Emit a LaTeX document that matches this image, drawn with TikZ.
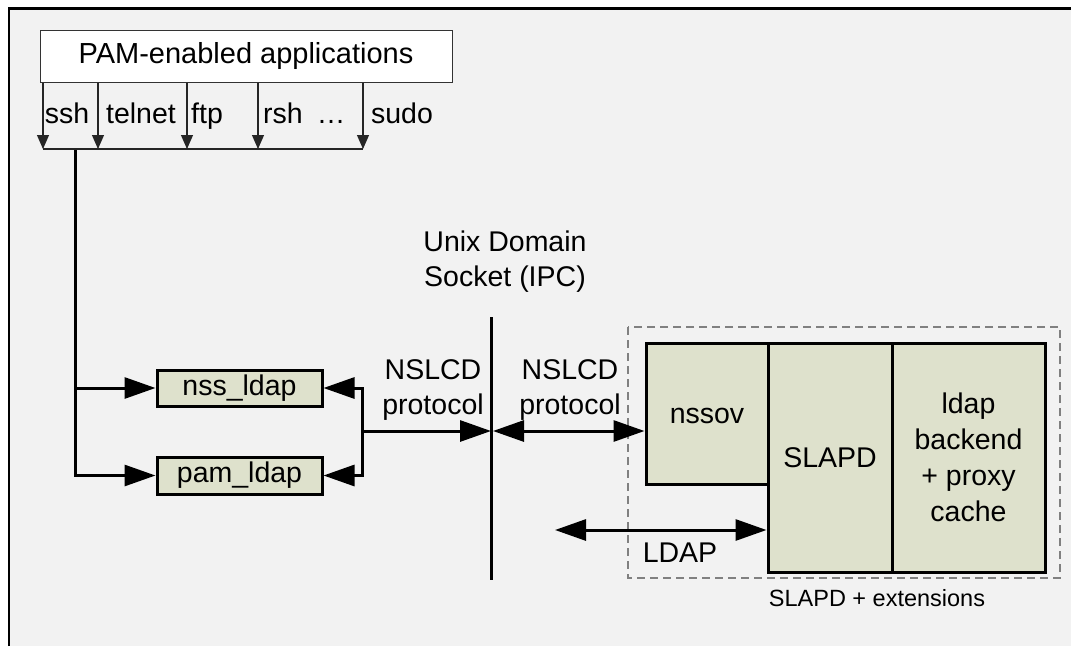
\documentclass[tikz,border=0pt]{standalone}
\usepackage{fontspec}
\setmainfont{Liberation Sans}
\usetikzlibrary{arrows.meta}
\definecolor{bgc}{HTML}{F2F2F2}
\definecolor{boxg}{HTML}{DEE1CC}
\definecolor{dashg}{HTML}{808080}
\begin{document}
\begin{tikzpicture}[x=1pt,y=-1pt,
  txt/.style={font=\fontsize{28.5}{35}\selectfont, inner sep=0pt, align=center},
  lbl/.style={font=\fontsize{28.5}{35}\selectfont, inner sep=0pt, anchor=base},
  smalltxt/.style={font=\fontsize{23.5}{28}\selectfont, inner sep=0pt, anchor=base},
  appbox/.style={draw=black!80, line width=1pt, fill=white, inner sep=0pt, font=\fontsize{29}{35}\selectfont},
  gbox/.style={draw=black, line width=3pt, fill=boxg, inner sep=0pt, align=center, font=\fontsize{28.5}{36}\selectfont},
  thinarrow/.style={draw=black!85, line width=1.1pt, -{Triangle[length=14pt,width=12pt]}},
  thinline/.style={draw=black!85, line width=1.1pt},
  thickline/.style={draw=black, line width=3pt},
  thickarrow/.style={thickline, -{Triangle[length=31pt,width=21pt]}},
  dblarrow/.style={thickline, {Triangle[length=31pt,width=21pt]}-{Triangle[length=31pt,width=21pt]}},
]
\useasboundingbox (0,0) rectangle (1071,646);
\fill[white] (0,0) rectangle (1071,646);
\fill[bgc] (9,8.5) rectangle (1071,646);
\draw[line width=2.8pt] (9,646) -- (9,8.5) -- (1071,8.5);

% top application box
\node[appbox, minimum width=412pt, minimum height=52pt, text height=20pt, text depth=6pt] (pam) at (246,56) {PAM-enabled applications};

\coordinate (b1) at (43,149);
\coordinate (b2) at (98,149);
\coordinate (b3) at (187,149);
\coordinate (b4) at (258,149);
\coordinate (b5) at (363,149);
\foreach \b in {b1,b2,b3,b4,b5} {\draw[thinarrow] (pam.south -| \b) -- (\b);}
\draw[thinline] (b1) -- (b5);

\node[lbl] (lssh) at (67,123) {ssh};
\node[lbl] (ltelnet) at (141,123) {telnet};
\node[lbl] (lftp) at (207,123) {ftp};
\node[lbl] (lrsh) at (283,123) {rsh};
\node[lbl] (ldots) at (331,123) {…};
\node[lbl] (lsudo) at (402,123) {sudo};

% client modules
\node[gbox, minimum width=165pt, minimum height=36pt, text height=20pt, text depth=6pt] (nss) at (239.5,388) {nss\_ldap};
\node[gbox, minimum width=165pt, minimum height=37pt, text height=20pt, text depth=6pt] (pamldap) at (239.5,475.5) {pam\_ldap};

\coordinate (j) at (75,150);
\draw[thickarrow] (j) |- (nss.west);
\draw[thickarrow] (j) |- (pamldap.west);

\coordinate (k) at (362,431);
\draw[thickarrow] (k) |- (nss.east);
\draw[thickarrow] (k) |- (pamldap.east);

% socket
\coordinate (s1) at (491,317);
\coordinate (s2) at (491,580);
\draw[thickline] (s1) -- (s2);
\node[txt] (sock) at (505,262) {Unix Domain\\Socket (IPC)};
\draw[thickarrow] (k) -- (k -| s1);

\node[txt] (nsl1) at (433,389.5) {NSLCD\\protocol};
\node[txt] (nsl2) at (570,389.5) {NSLCD\\protocol};

% SLAPD group
\draw[dashg, line width=1.3pt, dash pattern=on 8pt off 5pt] (628,327) rectangle (1060,578);
\node[gbox, minimum width=122pt, minimum height=141pt] (nssov) at (707,413.5) {};
\node[lbl] (nssovt) at (707,423) {nssov};
\node[gbox, minimum width=124pt, minimum height=229pt] (slapd) at (830,457.5) {};
\node[lbl] (slapdt) at (830,467) {SLAPD};
\node[gbox, minimum width=153pt, minimum height=229pt] (backend) at (968.5,457.5) {ldap\\backend\\+ proxy\\cache};

\draw[dblarrow] ([xshift=2pt]k -| s1) -- (nssov.west |- k);

\coordinate (l) at (555,530);
\draw[dblarrow] (l) -- (slapd.west |- l);
\node[lbl] (ldapl) at (680,562) {LDAP};

\node[smalltxt] (ext) at (877,606) {SLAPD + extensions};
\end{tikzpicture}
\end{document}
